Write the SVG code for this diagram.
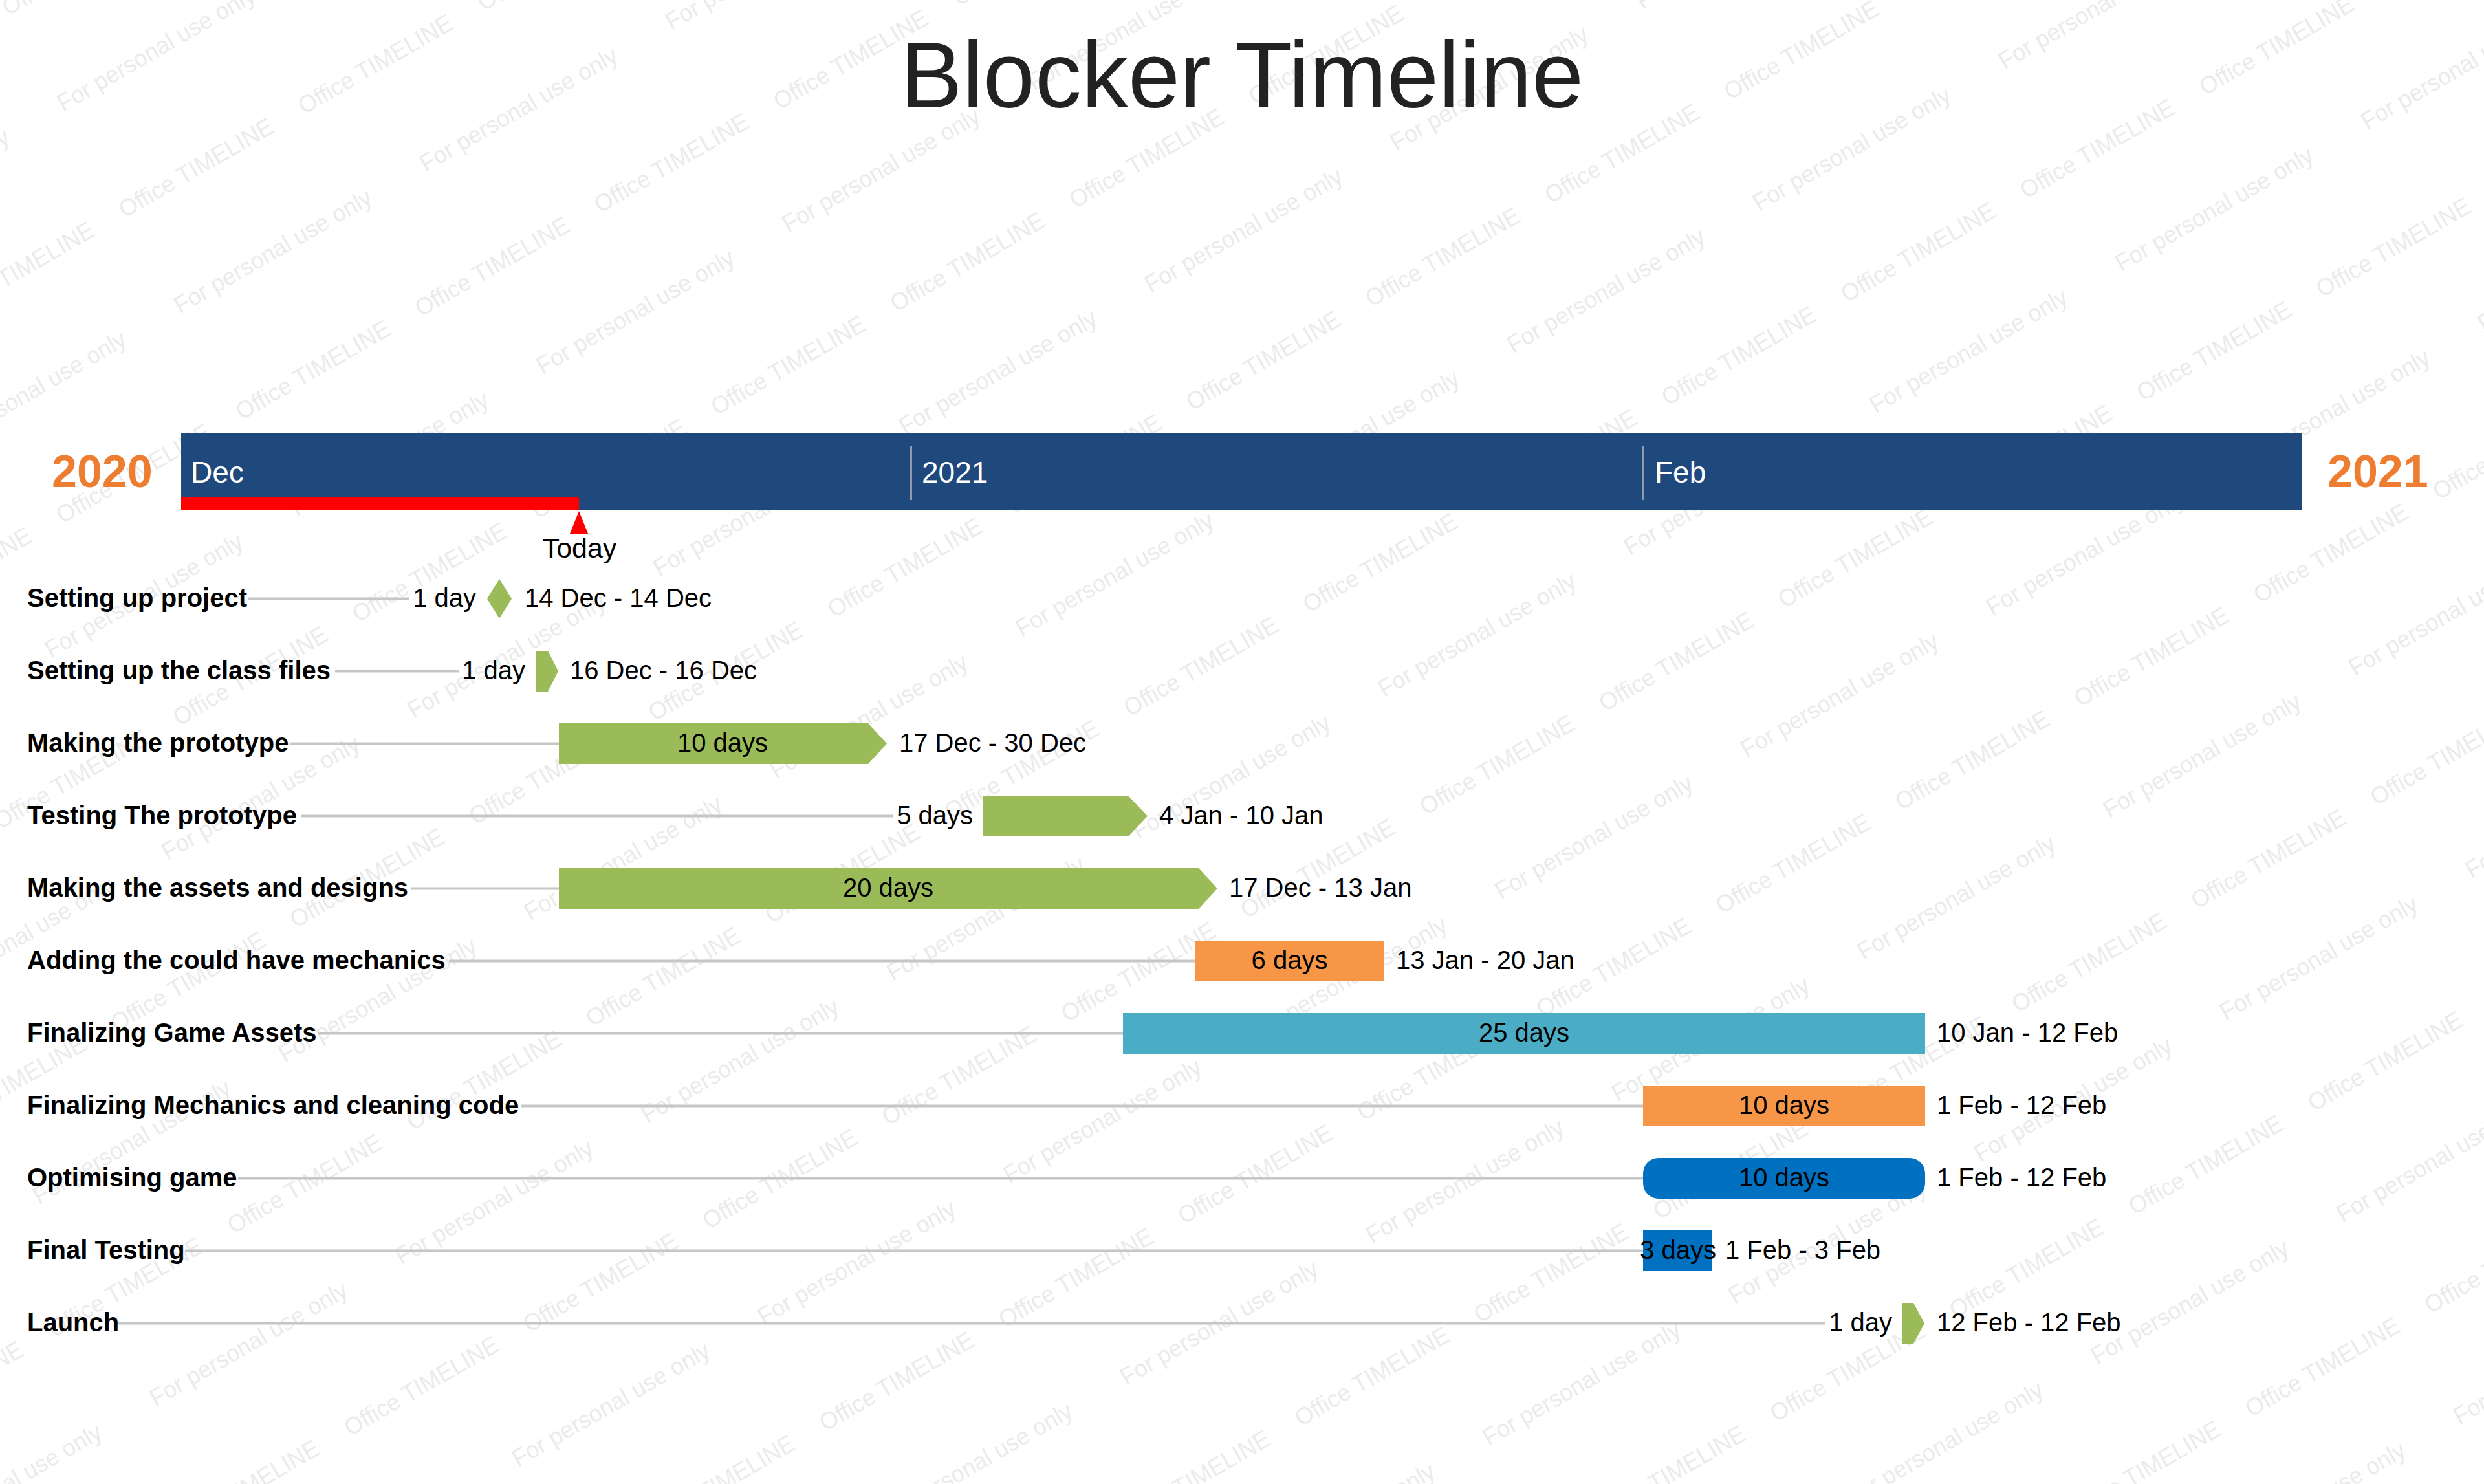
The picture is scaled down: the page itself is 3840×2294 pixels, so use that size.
<svg xmlns="http://www.w3.org/2000/svg" width="3840" height="2294" viewBox="0 0 3840 2294">
<style>
text{font-family:"Liberation Sans",Arial,sans-serif}
.wm{font-size:36px;fill:#EAEAEA}
.title{font-size:144px;fill:#222222}
.year{font-size:70px;font-weight:bold;fill:#ED7D31}
.month{font-size:46px;fill:#FFFFFF}
.lbl{font-size:40px;font-weight:bold;fill:#000000}
.t{font-size:40px;fill:#000000}
.mid{text-anchor:middle}
.end{text-anchor:end}
.lead{stroke:#C6C6C6;stroke-width:4;fill:none}
.div{stroke:#8F9BB0;stroke-width:4}
.g{fill:#9BBB59}
.o{fill:#F79646}
.c{fill:#4BACC6}
.b{fill:#0070C0}
</style>
<defs>
  <pattern id="wmOffice" patternUnits="userSpaceOnUse" x="0" y="0" width="320" height="361" patternTransform="translate(277,1123) rotate(-30) translate(-10,-200)">
    <text class="wm" x="10" y="200">Office TIMELINE</text>
  </pattern>
  <pattern id="wmPersonal" patternUnits="userSpaceOnUse" x="0" y="0" width="438.6" height="361" patternTransform="translate(277,1123) rotate(-30) translate(-129,-390)">
    <text class="wm" x="10" y="200">For personal use only</text>
  </pattern>
</defs>
<rect x="0" y="0" width="3840" height="2294" fill="#FFFFFF"/>
<g id="watermark">
  <rect x="0" y="0" width="3840" height="2294" fill="url(#wmOffice)"/>
  <rect x="0" y="0" width="3840" height="2294" fill="url(#wmPersonal)"/>
</g>

<text class="title mid" x="1920" y="166">Blocker Timeline</text>

<g id="timescale">
  <rect x="280" y="670" width="3278" height="119" fill="#1F497D"/>
  <line class="div" x1="1408" y1="689" x2="1408" y2="773"/>
  <line class="div" x1="2540" y1="689" x2="2540" y2="773"/>
  <text class="month" x="295" y="746">Dec</text>
  <text class="month" x="1425" y="746">2021</text>
  <text class="month" x="2558" y="746">Feb</text>
  <text class="year" x="80" y="753">2020</text>
  <text class="year" x="3598" y="753">2021</text>
</g>

<g id="today">
  <rect x="280" y="769" width="615" height="20" fill="#FF0000"/>
  <polygon points="895,790 909,825 881,825" fill="#FF0000"/>
  <text class="mid" x="896" y="862" font-size="43">Today</text>
</g>

<g id="connectors">
  <line class="lead" x1="384" y1="925.5" x2="632" y2="925.5"/>
  <line class="lead" x1="518" y1="1037.5" x2="709" y2="1037.5"/>
  <line class="lead" x1="449" y1="1149.5" x2="864" y2="1149.5"/>
  <line class="lead" x1="466" y1="1261.5" x2="1381" y2="1261.5"/>
  <line class="lead" x1="636" y1="1373.5" x2="864" y2="1373.5"/>
  <line class="lead" x1="694" y1="1485.5" x2="1848" y2="1485.5"/>
  <line class="lead" x1="492" y1="1597.5" x2="1736" y2="1597.5"/>
  <line class="lead" x1="805" y1="1709.5" x2="2540" y2="1709.5"/>
  <line class="lead" x1="368" y1="1821.5" x2="2540" y2="1821.5"/>
  <line class="lead" x1="286" y1="1933.5" x2="2540" y2="1933.5"/>
  <line class="lead" x1="181" y1="2045.5" x2="2822" y2="2045.5"/>
</g>

<g id="task-setting-up-project">
  <text class="lbl" x="42" y="937.5">Setting up project</text>
  <polygon class="g" points="772,895 791,925.5 772,956 753,925.5"/>
  <text class="t end" x="736" y="937.5">1 day</text>
  <text class="t" x="811" y="937.5">14 Dec - 14 Dec</text>
</g>

<g id="task-class-files">
  <text class="lbl" x="42" y="1049.5">Setting up the class files</text>
  <polygon class="g" points="829,1006 847,1006 863,1037.5 847,1069 829,1069"/>
  <text class="t end" x="812" y="1049.5">1 day</text>
  <text class="t" x="881" y="1049.5">16 Dec - 16 Dec</text>
</g>

<g id="task-making-prototype">
  <text class="lbl" x="42" y="1161.5">Making the prototype</text>
  <polygon class="g" points="864,1118 1342,1118 1371,1149.5 1342,1181 864,1181"/>
  <text class="t mid" x="1117" y="1161.5">10 days</text>
  <text class="t" x="1390" y="1161.5">17 Dec - 30 Dec</text>
</g>

<g id="task-testing-prototype">
  <text class="lbl" x="42" y="1273.5">Testing The prototype</text>
  <polygon class="g" points="1520,1230 1744,1230 1774,1261.5 1744,1293 1520,1293"/>
  <text class="t end" x="1504" y="1273.5">5 days</text>
  <text class="t" x="1792" y="1273.5">4 Jan - 10 Jan</text>
</g>

<g id="task-assets-designs">
  <text class="lbl" x="42" y="1385.5">Making the assets and designs</text>
  <polygon class="g" points="864,1342 1853,1342 1882,1373.5 1853,1405 864,1405"/>
  <text class="t mid" x="1373" y="1385.5">20 days</text>
  <text class="t" x="1900" y="1385.5">17 Dec - 13 Jan</text>
</g>

<g id="task-could-have">
  <text class="lbl" x="42" y="1497.5">Adding the could have mechanics</text>
  <rect class="o" x="1848" y="1454" width="291" height="63"/>
  <text class="t mid" x="1993.5" y="1497.5">6 days</text>
  <text class="t" x="2158" y="1497.5">13 Jan - 20 Jan</text>
</g>

<g id="task-game-assets">
  <text class="lbl" x="42" y="1609.5">Finalizing Game Assets</text>
  <rect class="c" x="1736" y="1566" width="1240" height="63"/>
  <text class="t mid" x="2356" y="1609.5">25 days</text>
  <text class="t" x="2994" y="1609.5">10 Jan - 12 Feb</text>
</g>

<g id="task-mechanics">
  <text class="lbl" x="42" y="1721.5">Finalizing Mechanics and cleaning code</text>
  <rect class="o" x="2540" y="1678" width="436" height="63"/>
  <text class="t mid" x="2758" y="1721.5">10 days</text>
  <text class="t" x="2994" y="1721.5">1 Feb - 12 Feb</text>
</g>

<g id="task-optimising">
  <text class="lbl" x="42" y="1833.5">Optimising game</text>
  <rect class="b" x="2540" y="1790" width="436" height="63" rx="24" ry="24"/>
  <text class="t mid" x="2758" y="1833.5">10 days</text>
  <text class="t" x="2994" y="1833.5">1 Feb - 12 Feb</text>
</g>

<g id="task-final-testing">
  <text class="lbl" x="42" y="1945.5">Final Testing</text>
  <rect class="b" x="2540" y="1902" width="107" height="63"/>
  <text class="t mid" x="2594" y="1945.5">3 days</text>
  <text class="t" x="2667" y="1945.5">1 Feb - 3 Feb</text>
</g>

<g id="task-launch">
  <text class="lbl" x="42" y="2057.5">Launch</text>
  <polygon class="g" points="2940,2014 2958,2014 2975,2045.5 2958,2077 2940,2077"/>
  <text class="t end" x="2925" y="2057.5">1 day</text>
  <text class="t" x="2994" y="2057.5">12 Feb - 12 Feb</text>
</g>
</svg>
